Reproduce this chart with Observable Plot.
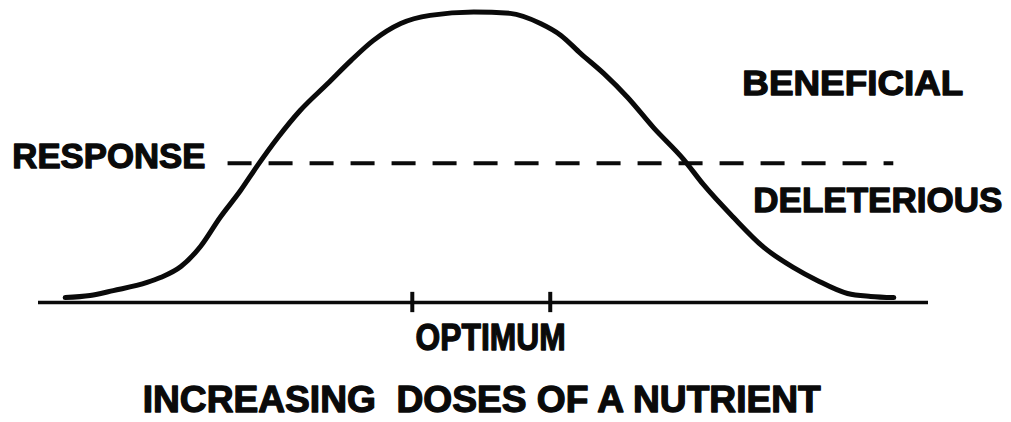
<!DOCTYPE html>
<html>
<head>
<meta charset="utf-8">
<script src="https://cdn.jsdelivr.net/npm/d3@7"></script>
<script src="https://cdn.jsdelivr.net/npm/@observablehq/plot@0.6"></script>
<style>
  html, body { margin: 0; padding: 0; background: #fff; }
  #chart svg { display: block; }
</style>
</head>
<body>
<div id="chart"></div>
<script>
// ---- Data (dose units 0–100, response units 0–100) ----
const curveDose = [3.0, 5.8, 8.4, 12.2, 13.7, 16.0, 18.2, 20.4, 22.7, 24.6, 26.9, 29.4, 32.5, 35.1, 37.6, 40.7, 44.0, 48.9, 53.0, 56.4, 58.7, 60.9, 63.5, 66.2, 69.1, 72.5, 74.7, 78.1, 81.5, 84.8, 87.5, 90.9, 93.5, 96.1];
const curveResponse = [1.7, 2.4, 4.1, 6.9, 8.6, 12.4, 19.3, 29.3, 38.6, 47.2, 56.9, 66.2, 75.5, 83.4, 90.3, 96.2, 99.0, 100.2, 99.7, 96.2, 92.1, 85.9, 79.0, 70.7, 60.3, 49.3, 40.7, 29.3, 19.0, 12.1, 7.6, 3.1, 2.1, 1.7];
const optimumRange = [42.0, 57.5];            // doses bounding the optimum
const responseThreshold = 48.0;               // beneficial / deleterious divide
const thresholdDoseSpan = [21.3, 96.1];       // extent of the dashed divide
const labelTexts = ["RESPONSE", "BENEFICIAL", "DELETERIOUS", "OPTIMUM", "INCREASING  DOSES OF A NUTRIENT"];
const labelDose = [7.9, 91.5, 94.3, 50.8, 49.8];
const labelResponse = [50.5, 75.7, 35.3, -12.1, -33.3];

// ---- Layout / style (not data) ----
const labelWidthPx = [193, 221, 249, 150, 678];
const labelFontPx = [35, 35, 35, 37, 37];

const curve = curveDose.map((d, i) => ({dose: d, response: curveResponse[i]}));
const labels = labelTexts.map((t, i) => ({text: t, dose: labelDose[i], response: labelResponse[i], w: labelWidthPx[i], fs: labelFontPx[i]}));

const ink = "#0a0a0a";
const fontFamily = "'Liberation Sans', Arial, sans-serif";

const plot = Plot.plot({
  width: 1011,
  height: 422,
  marginLeft: 38,
  marginRight: 83,
  marginTop: 12,
  marginBottom: 120,
  style: {background: "#fff", fontFamily},
  x: {axis: null, domain: [0, 100]},
  y: {axis: null, domain: [0, 100]},
  marks: [
    Plot.ruleY([0], {stroke: ink, strokeWidth: 3.5}),
    Plot.ruleX(optimumRange, {y1: -3.5, y2: 3.5, stroke: ink, strokeWidth: 4}),
    Plot.ruleY([responseThreshold], {x1: thresholdDoseSpan[0], x2: thresholdDoseSpan[1], stroke: ink, strokeWidth: 4, strokeDasharray: "24,17"}),
    Plot.line(curve, {x: "dose", y: "response", curve: "monotone-x", stroke: ink, strokeWidth: 5, strokeLinecap: "round", strokeLinejoin: "round"}),
    ...labels.map(l => Plot.text([l], {x: "dose", y: "response", text: "text", fontSize: l.fs, fontWeight: "bold", fill: ink, stroke: ink, strokeWidth: 1.3, textAnchor: "middle", lineAnchor: "middle", dy: 1}))
  ]
});

document.getElementById("chart").appendChild(plot);

// Fit each label to its measured width
const textEls = plot.querySelectorAll("text");
textEls.forEach(el => {
  const lab = labels.find(l => l.text === el.textContent);
  if (lab) {
    el.setAttribute("textLength", lab.w);
    el.setAttribute("lengthAdjust", "spacingAndGlyphs");
    el.style.whiteSpace = "pre";
  }
});
</script>
</body>
</html>
